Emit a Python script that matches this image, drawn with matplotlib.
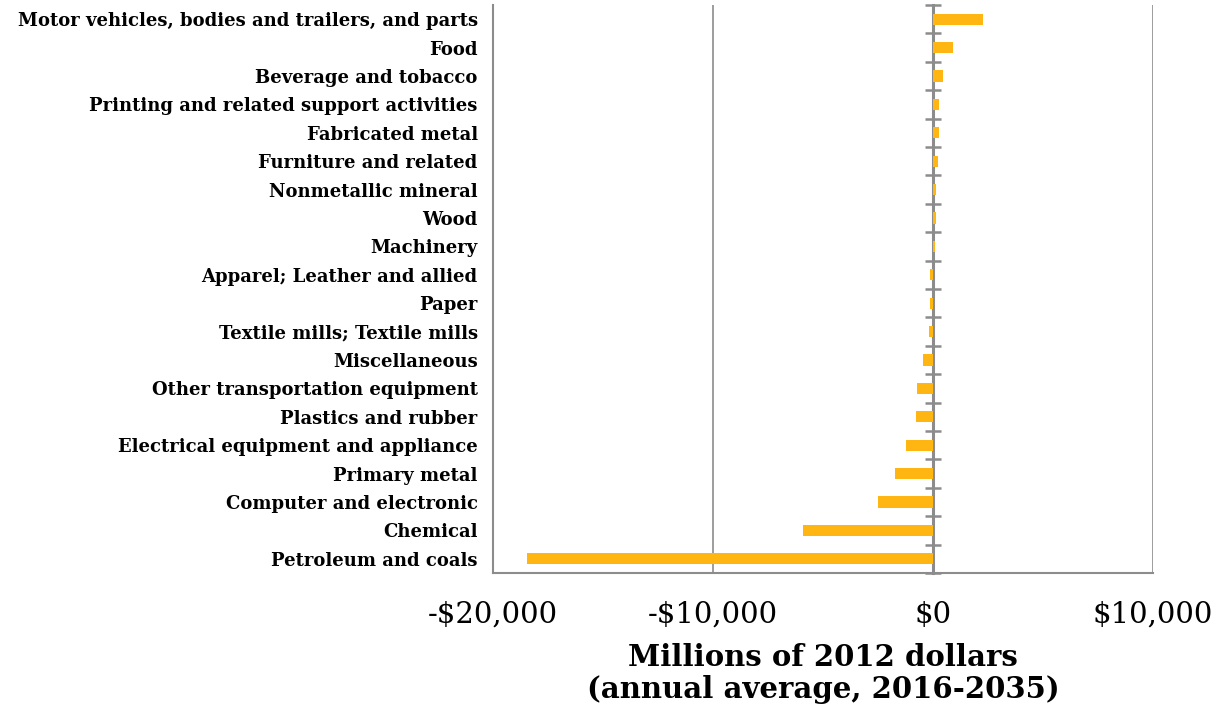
"""Annual average output change by manufacturing industry, horizontal bars."""

import matplotlib

matplotlib.use("Agg")

import matplotlib.pyplot as plt
import numpy as np
from matplotlib.ticker import FuncFormatter

industries = [
    "Motor vehicles, bodies and trailers, and parts",
    "Food",
    "Beverage and tobacco",
    "Printing and related support activities",
    "Fabricated metal",
    "Furniture and related",
    "Nonmetallic mineral",
    "Wood",
    "Machinery",
    "Apparel; Leather and allied",
    "Paper",
    "Textile mills; Textile mills",
    "Miscellaneous",
    "Other transportation equipment",
    "Plastics and rubber",
    "Electrical equipment and appliance",
    "Primary metal",
    "Computer and electronic",
    "Chemical",
    "Petroleum and coals",
]
values = [2250, 900, 450, 280, 260, 230, 150, 140, 100, -120,
          -140, -180, -450, -730, -770, -1230, -1730, -2500, -5900, -18450]

x_ticks = [-20000, -10000, 0, 10000]

BAR = "#FFB612"
GREY = "#8c8c8c"
SERIF = "DejaVu Serif"


def money(v, _pos):
    return f"-${abs(v):,.0f}" if v < 0 else f"${v:,.0f}"


fig = plt.figure(figsize=(12.18, 7.13), dpi=100)
ax = fig.add_axes([493 / 1218, 1 - 573 / 713, 660 / 1218, 568 / 713])

y = np.arange(len(industries))
ax.barh(y, values, height=0.4, color=BAR, zorder=3)
ax.set_ylim(len(industries) - 0.5, -0.5)
ax.set_xlim(-20000, 10000)

ax.set_yticks(y)
ax.set_yticklabels(industries, fontsize=13, fontweight="bold", family=SERIF)
ax.tick_params(axis="y", length=0, pad=11)

ax.set_xticks(x_ticks)
ax.xaxis.set_major_formatter(FuncFormatter(money))
ax.tick_params(axis="x", length=0, pad=20, labelsize=21)
for lab in ax.get_xticklabels():
    lab.set_family(SERIF)

for xv in (-10000, 10000):
    ax.axvline(xv, color=GREY, lw=1.2, zorder=1)

for side in ("top", "right"):
    ax.spines[side].set_visible(False)
for side in ("left", "bottom"):
    ax.spines[side].set_color(GREY)
    ax.spines[side].set_linewidth(1.5)

# zero axis with cross ticks between the categories
zero = ax.secondary_yaxis((0 - (-20000)) / 30000)
zero.set_yticks(np.arange(len(industries) + 1) - 0.5)
zero.set_yticklabels([])
zero.tick_params(direction="inout", length=12, width=1.8, color=GREY)
zero.spines["right"].set_color(GREY)
zero.spines["right"].set_linewidth(2.2)

ax.set_xlabel("Millions of 2012 dollars\n(annual average, 2016-2035)",
              fontsize=21, fontweight="bold", family=SERIF, labelpad=10,
              linespacing=1.15)

fig.savefig("out.png", dpi=100)
